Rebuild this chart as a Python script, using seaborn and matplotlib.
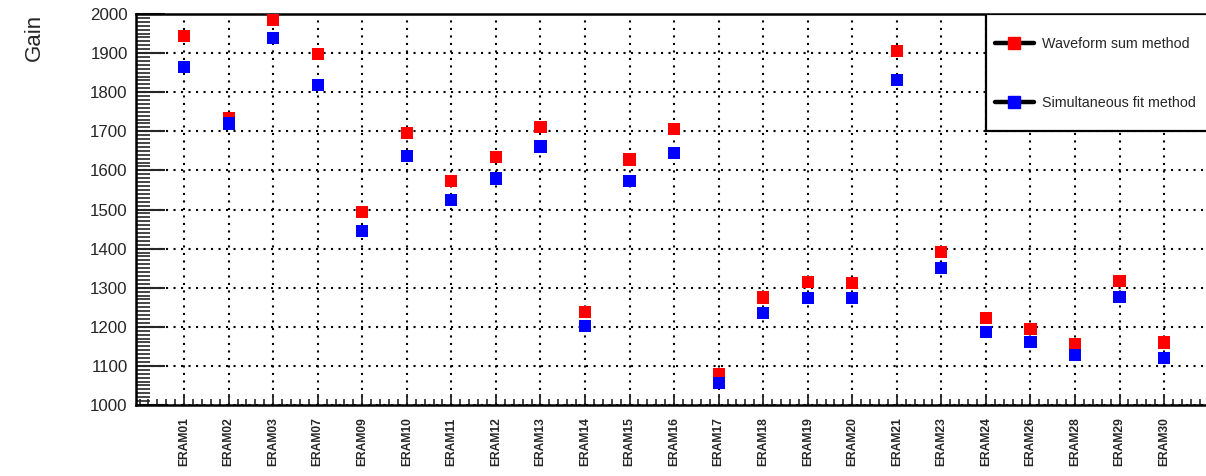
import matplotlib
matplotlib.use("Agg")
import matplotlib.pyplot as plt
from matplotlib.lines import Line2D
from matplotlib.patches import Rectangle
from matplotlib.ticker import MultipleLocator, FixedLocator
import seaborn as sns
import pandas as pd

# Detector modules
modules = ["ERAM01", "ERAM02", "ERAM03", "ERAM07", "ERAM09", "ERAM10", "ERAM11",
           "ERAM12", "ERAM13", "ERAM14", "ERAM15", "ERAM16", "ERAM17", "ERAM18",
           "ERAM19", "ERAM20", "ERAM21", "ERAM23", "ERAM24", "ERAM26", "ERAM28",
           "ERAM29", "ERAM30"]

# Gain per module from the two extraction methods
gain_waveform_sum = [1943, 1735, 1985, 1898, 1493, 1696, 1573, 1634, 1711, 1238,
                     1628, 1705, 1080, 1275, 1315, 1313, 1905, 1392, 1222, 1195,
                     1155, 1318, 1160]
gain_simultaneous_fit = [1864, 1720, 1938, 1818, 1445, 1637, 1525, 1579, 1661, 1202,
                         1572, 1645, 1057, 1235, 1273, 1273, 1832, 1351, 1187, 1161,
                         1128, 1277, 1120]

method_labels = ["Waveform sum method", "Simultaneous fit method"]
method_colors = {"Waveform sum method": "#ff0000", "Simultaneous fit method": "#0000ff"}

sns.set_style("white")
plt.rcParams["font.family"] = ["Liberation Sans", "DejaVu Sans"]

df = pd.concat([
    pd.DataFrame({"module": modules, "gain": gain_waveform_sum, "method": method_labels[0]}),
    pd.DataFrame({"module": modules, "gain": gain_simultaneous_fit, "method": method_labels[1]}),
], ignore_index=True)

W, H = 1206, 476
fig = plt.figure(figsize=(W / 100, H / 100), dpi=100)
ax = fig.add_axes([136 / W, 71 / H, 1074 / W, 391 / H])

marker_size = 8.8
sns.scatterplot(data=df, x="module", y="gain", hue="method", palette=method_colors,
                marker="s", s=marker_size ** 2, linewidth=0, legend=False,
                ax=ax, zorder=3)

ax.set_xlim(-1.08, 23.03)
ax.set_ylim(1000, 2000)
ax.set_xlabel("")
ax.set_ylabel("")

# Axis ticks
ax.xaxis.set_major_locator(FixedLocator(range(len(modules))))
ax.set_xticklabels(modules, rotation=90, fontsize=8.7, fontweight="bold")
ax.xaxis.set_minor_locator(MultipleLocator(0.2))
ax.yaxis.set_major_locator(MultipleLocator(100))
ax.yaxis.set_minor_locator(MultipleLocator(10))
ax.tick_params(axis="y", which="major", direction="in", length=21, width=1.5,
               labelsize=12.2, pad=6, left=True)
ax.tick_params(axis="y", which="minor", direction="in", length=10, width=1.2, left=True)
ax.tick_params(axis="x", which="major", direction="in", length=8, width=1.3,
               pad=9, bottom=True)
ax.tick_params(axis="x", which="minor", direction="in", length=4, width=1.2, bottom=True)

# Dotted grid
ax.grid(True, which="major", color="black", linewidth=1.5,
        linestyle=(0, (1, 2.6)))
ax.set_axisbelow(True)

for side in ["left", "bottom", "top"]:
    ax.spines[side].set_visible(True)
    ax.spines[side].set_color("black")
    ax.spines[side].set_linewidth(1.8)
ax.spines["right"].set_visible(False)

# Legend box
ax.add_patch(Rectangle((0.7914, 0.7008), 0.4, 0.3, transform=ax.transAxes,
                       facecolor="white", edgecolor="black", linewidth=1.6,
                       zorder=4, clip_on=True))
handles = [Line2D([0], [0], color="black", linewidth=3.2, marker="s",
                  markersize=marker_size, markerfacecolor=method_colors[m],
                  markeredgecolor=method_colors[m]) for m in method_labels]
leg = ax.legend(handles, method_labels, loc="upper left",
                bbox_to_anchor=(0.7998, 0.942), frameon=False, fontsize=10.3,
                handlelength=2.7, handletextpad=0.6, labelspacing=3.15,
                borderpad=0, borderaxespad=0)
leg.set_zorder(5)

fig.text(34 / W, 1 - 14 / H, "Gain", rotation=90, ha="center", va="top", fontsize=16)

fig.savefig("out.png", dpi=100)
